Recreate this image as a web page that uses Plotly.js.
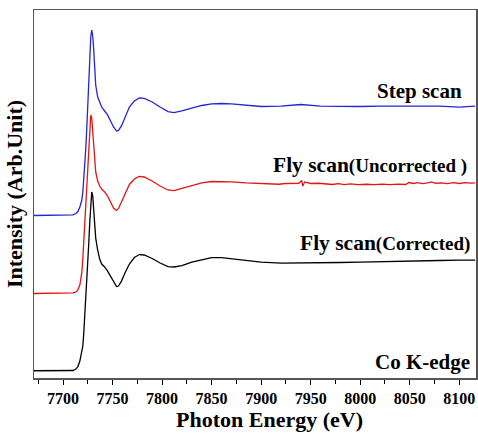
<!DOCTYPE html>
<html>
<head>
<meta charset="utf-8">
<script src="https://cdn.plot.ly/plotly-3.0.1.min.js"></script>
<style>
html,body{margin:0;padding:0;background:#fff;}
#chart{width:478px;height:434px;}
</style>
</head>
<body>
<div id="chart"></div>
<script>
// Photon energy grid (eV) for step scan and corrected fly scan
const energy = [7670,7700,7710,7713,7715,7717,7719,7720,7721,7722,7723,7724,7725,7726,7727,7728,7729,7730,7731,7732,7733,7735,7737,7739,7742,7745,7748,7751,7754,7756,7759,7763,7767,7772,7777,7782,7790,7798,7806,7812,7820,7830,7840,7850,7860,7870,7885,7900,7920,7940,7960,7980,8000,8020,8040,8060,8080,8100,8116];

// Normalized intensity, Fly scan (Corrected)
const flyCorrected = [0,0,0.002,0.015,0.038,0.088,0.161,0.225,0.352,0.497,0.661,0.825,0.988,1.161,1.352,1.543,1.625,1.588,1.461,1.315,1.206,1.097,1.015,0.97,0.943,0.906,0.861,0.806,0.765,0.77,0.815,0.897,0.97,1.029,1.056,1.052,1.02,0.979,0.947,0.943,0.956,0.988,1.011,1.029,1.029,1.02,1.002,0.988,0.979,0.979,0.984,0.984,0.988,0.993,0.997,0.997,1.002,1.006,1.006];

// Normalized intensity, Step scan
const stepScan = [0,0,0.005,0.018,0.036,0.077,0.141,0.214,0.323,0.45,0.614,0.795,0.995,1.232,1.45,1.623,1.686,1.632,1.505,1.323,1.186,1.077,1.023,0.986,0.95,0.914,0.859,0.805,0.768,0.773,0.814,0.905,0.986,1.041,1.068,1.064,1.032,0.986,0.945,0.936,0.95,0.977,1.0,1.014,1.018,1.014,1.0,0.991,0.995,1.009,0.995,0.991,0.991,0.995,0.995,0.995,0.995,0.986,0.995];

// Photon energy grid (eV) for uncorrected fly scan
const energyUncorr = [7670,7700,7710,7713,7715,7717,7719,7720,7721,7722,7723,7724,7725,7726,7727,7728,7729,7730,7731,7732,7733,7735,7737,7739,7742,7745,7748,7751,7754,7756,7759,7763,7767,7772,7777,7782,7790,7798,7806,7812,7820,7830,7840,7850,7860,7870,7885,7900,7910,7918,7924,7932,7938,7941,7942,7944,7950,7958,7966,7972,7978,7984,7990,7998,8006,8014,8022,8030,8038,8046,8049,8054,8058,8063,8068,8072,8076,8082,8088,8094,8100,8106,8112,8116];

// Normalized intensity, Fly scan (Uncorrected)
const flyUncorrected = [0,0,0.005,0.014,0.032,0.077,0.195,0.323,0.486,0.65,0.823,0.995,1.177,1.368,1.541,1.623,1.595,1.486,1.323,1.186,1.105,1.023,0.977,0.95,0.923,0.886,0.832,0.777,0.755,0.773,0.832,0.914,0.991,1.041,1.064,1.059,1.023,0.977,0.941,0.936,0.955,0.982,1.005,1.018,1.018,1.014,1.005,1.0,0.995,0.993,1.0,1.005,1.002,1.027,0.977,1.014,1.0,1.002,0.993,0.991,0.998,0.99,0.996,0.99,0.993,0.989,0.995,0.99,0.994,0.991,1.009,1.0,1.008,0.999,1.006,1.014,1.002,1.006,0.998,1.008,1.0,1.007,1.003,1.005];

// Vertical stacking offsets
const offsets = {corrected: 0, uncorrected: 0.702, step: 1.411};

const labels = ["Step scan", "Fly scan", "(Uncorrected )", "Fly scan", "(Corrected)", "Co K-edge"];
const xTitle = "Photon Energy (eV)";
const yTitle = "Intensity (Arb.Unit)";

const font = "Liberation Serif, Times New Roman, serif";

const shift = (arr, o) => arr.map(v => v + o);

const traces = [
  {x: energy, y: shift(flyCorrected, offsets.corrected), mode: 'lines', line: {color: '#000000', width: 1.3}, name: 'Fly scan (Corrected)'},
  {x: energyUncorr, y: shift(flyUncorrected, offsets.uncorrected), mode: 'lines', line: {color: '#e31414', width: 1.3}, name: 'Fly scan (Uncorrected)'},
  {x: energy, y: shift(stepScan, offsets.step), mode: 'lines', line: {color: '#2424d8', width: 1.3}, name: 'Step scan'}
];

const layout = {
  width: 478, height: 434,
  margin: {l: 34, r: 2, t: 10, b: 56},
  paper_bgcolor: '#ffffff', plot_bgcolor: '#ffffff',
  showlegend: false,
  font: {family: font, color: '#000'},
  xaxis: {
    range: [7670.7, 8116.9], tick0: 7700, dtick: 50,
    ticks: 'outside', ticklen: 5, tickwidth: 1, tickcolor: '#000',
    minor: {dtick: 25, tick0: 7675, ticks: 'outside', ticklen: 4, tickwidth: 1, tickcolor: '#000'},
    showgrid: false, zeroline: false,
    showline: true, mirror: true, linecolor: '#555', linewidth: 1.5,
    tickfont: {family: font, size: 16, color: '#000', weight: 'bold'}
  },
  yaxis: {
    range: [-0.066, 3.279],
    showticklabels: false, ticks: '', showgrid: false, zeroline: false,
    showline: true, mirror: true, linecolor: '#555', linewidth: 1.5,
    title: {text: '<b>' + yTitle + '</b>', font: {family: font, size: 22, color: '#000'}, standoff: 4}
  },
  annotations: [
    {xref: 'paper', yref: 'paper', x: 0.532, y: -0.114, xanchor: 'center', yanchor: 'middle', showarrow: false,
     text: '<b>' + xTitle + '</b>', font: {family: font, size: 22, color: '#000'}},
    {xref: 'paper', yref: 'paper', x: 0.9735, y: 0.780, xanchor: 'right', yanchor: 'middle', showarrow: false,
     text: '<b>' + labels[0] + '</b>', font: {family: font, size: 21, color: '#000'}},
    {xref: 'paper', yref: 'paper', x: 0.985, y: 0.579, xanchor: 'right', yanchor: 'middle', showarrow: false,
     text: '<b>' + labels[1] + '<span style="font-size:19px">' + labels[2] + '</span></b>', font: {family: font, size: 21.5, color: '#000'}},
    {xref: 'paper', yref: 'paper', x: 0.991, y: 0.367, xanchor: 'right', yanchor: 'middle', showarrow: false,
     text: '<b>' + labels[3] + '<span style="font-size:19px">' + labels[4] + '</span></b>', font: {family: font, size: 21.5, color: '#000'}},
    {xref: 'paper', yref: 'paper', x: 0.991, y: 0.044, xanchor: 'right', yanchor: 'middle', showarrow: false,
     text: '<b>' + labels[5] + '</b>', font: {family: font, size: 21, color: '#000'}}
  ]
};

Plotly.newPlot('chart', traces, layout, {staticPlot: true, displayModeBar: false});
</script>
</body>
</html>
